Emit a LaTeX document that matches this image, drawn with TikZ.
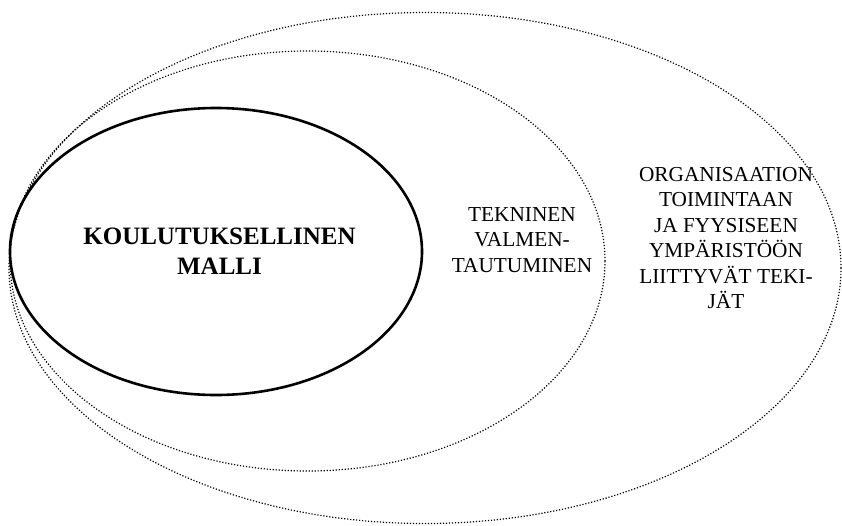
\documentclass[tikz,border=0pt]{standalone}
\usepackage{fontspec}
\setmainfont{Liberation Serif}
\usetikzlibrary{shapes.geometric}
\begin{document}
\begin{tikzpicture}[x=1pt,y=-1pt,
  ring/.style={ellipse, draw=black, inner sep=0pt, outer sep=0pt},
  dotring/.style={ring, line width=1.2pt, dash pattern=on 1.2pt off 1.8pt},
  solidring/.style={ring, line width=2.6pt},
  lbl/.style={align=center, inner sep=0pt, anchor=base, font=\fontsize{21.3}{25.5}\selectfont},
  boldlbl/.style={align=center, inner sep=0pt, anchor=base, font=\fontsize{25}{30}\selectfont\bfseries}]
\useasboundingbox (0,0) rectangle (842,525);
\node[dotring, minimum width=832pt, minimum height=511pt] (outer) at (425,268) {};
\node[dotring, minimum width=595pt, minimum height=420pt] (middle) at (307.5,261) {};
\node[solidring, minimum width=412pt, minimum height=287pt] (inner) at (216,251.5) {};
\node[boldlbl] (t1) at (219.5,274) {KOULUTUKSELLINEN\\MALLI};
\node[lbl] (t2) at (522,272) {TEKNINEN\\VALMEN-\\TAUTUMINEN};
\node[lbl] (t3) at (726,308.5) {ORGANISAATION\\TOIMINTAAN\\JA FYYSISEEN\\YMPÄRISTÖÖN\\LIITTYVÄT TEKI-\\JÄT};
\end{tikzpicture}
\end{document}
